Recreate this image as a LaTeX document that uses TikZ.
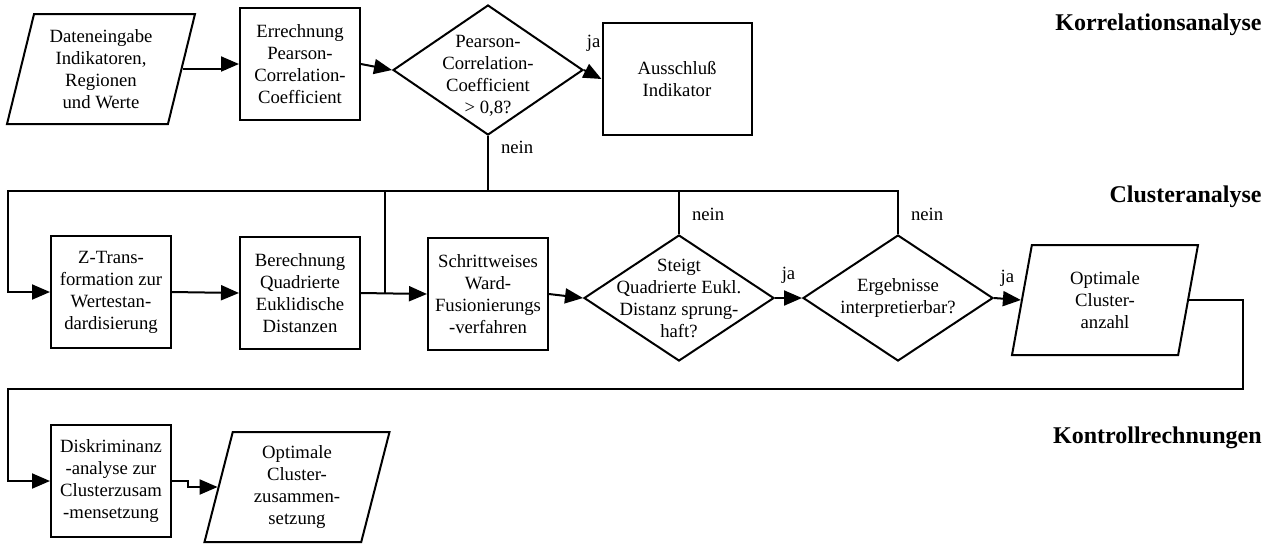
\documentclass[tikz,border=0pt]{standalone}
\usepackage{fontspec}
\setmainfont{Liberation Serif}
\usetikzlibrary{arrows.meta,positioning,shapes.geometric}
\tikzset{
  proc/.style={draw, line width=1pt, minimum width=60pt, minimum height=56pt, inner sep=1pt, align=center},
  decision/.style={diamond, draw, line width=1pt, minimum width=95pt, minimum height=63pt, inner sep=0pt},
  iobox/.style={trapezium, trapezium left angle=72, trapezium right angle=108, trapezium stretches body,
    draw, line width=1pt, minimum width=94pt, minimum height=55pt, inner sep=1pt, align=center},
  flow/.style={-{Triangle[length=9pt,width=7.5pt]}, line width=1pt},
  link/.style={line width=1pt},
  tag/.style={inner sep=1pt},
  phase/.style={anchor=base east, inner sep=0pt, font=\bfseries\fontsize{12}{14}\selectfont}
}

\begin{document}
\begin{tikzpicture}[x=0.5pt, y=-0.5pt, font=\fontsize{9.35}{11}\selectfont]
  \useasboundingbox (0,0) rectangle (1274,543);

  \node[iobox] (dat) at (101,69) {Dateneingabe\\Indikatoren,\\Regionen\\und Werte};
  \node[proc] (err) at (300,64) {Errechnung\\Pearson-\\Correlation-\\Coefficient};
  \node[decision, minimum height=65pt,
    label={[align=center, yshift=-3pt]center:{Pearson-\\Correlation-\\Coefficient\\> 0,8?}}] (korr) at (488,70) {};
  \node[proc, minimum width=74.5pt] (aus) at (677,79) {Ausschluß\\Indikator};

  \node[proc] (ztr) at (111,292) {Z-Trans-\\formation zur\\Wertestan-\\dardisierung};
  \node[proc] (ber) at (300,293) {Berechnung\\Quadrierte\\Euklidische\\Distanzen};
  \node[proc] (ward) at (488,294) {Schrittweises\\Ward-\\Fusionierungs\\-verfahren};
  \node[decision,
    label={[align=center]center:{Steigt\\Quadrierte Eukl.\\Distanz sprung-\\haft?}}] (steigt) at (679,298) {};
  \node[decision,
    label={[align=center]center:{Ergebnisse\\interpretierbar?}}] (interp) at (898,298) {};
  \node[iobox, minimum width=93pt] (opt) at (1105,300) {Optimale\\Cluster-\\anzahl};

  \node[proc] (disk) at (111,481) {Diskriminanz\\-analyse zur\\Clusterzusam\\-mensetzung};
  \node[iobox, minimum width=92.5pt] (erg) at (297,487) {Optimale\\Cluster-\\zusammen-\\setzung};

  \node[phase] (h1) at (1262,30) {Korrelationsanalyse};
  \node[phase] (h2) at (1262,202) {Clusteranalyse};
  \node[phase] (h3) at (1262,443) {Kontrollrechnungen};

  \coordinate (busL) at (8,191);
  \coordinate (busJ) at (385,191);
  \coordinate (retR) at (1243,389);
  \coordinate (retL) at (8,389);

  \draw[flow] (dat.right side) -- ++(42,0) |- (err.west);
  \draw[flow] (err.east) -- (korr.west);
  \draw[flow] (korr.east) -- node[tag, above=10pt, pos=0.55] {ja} (aus.west);
  \draw[flow] (korr.south) |- node[tag, right=5pt, pos=0.1] {nein} (busL) |- (ztr.west);
  \draw[flow] (ztr.east) -- (ber.west);
  \draw[flow] (ber.east) -- (ward.west);
  \draw[link] (steigt.north) -- node[tag, right=5pt, pos=0.45] {nein} (steigt.north |- busL);
  \draw[link] (interp.north) -- node[tag, right=5pt, pos=0.45] {nein} (interp.north |- busL)
    -- (busJ) -- (busJ |- ward.west);
  \draw[flow] (ward.east) -- (steigt.west);
  \draw[flow] (steigt.east) -- node[tag, above=6pt] {ja} (interp.west);
  \draw[flow] (interp.east) -- node[tag, above=5pt] {ja} (opt.left side);
  \draw[flow] (opt.right side) -| (retR) -- (retL) |- (disk.west);
  \draw[flow] (disk.east) -- ++(16,0) |- (erg.left side);
\end{tikzpicture}
\end{document}
